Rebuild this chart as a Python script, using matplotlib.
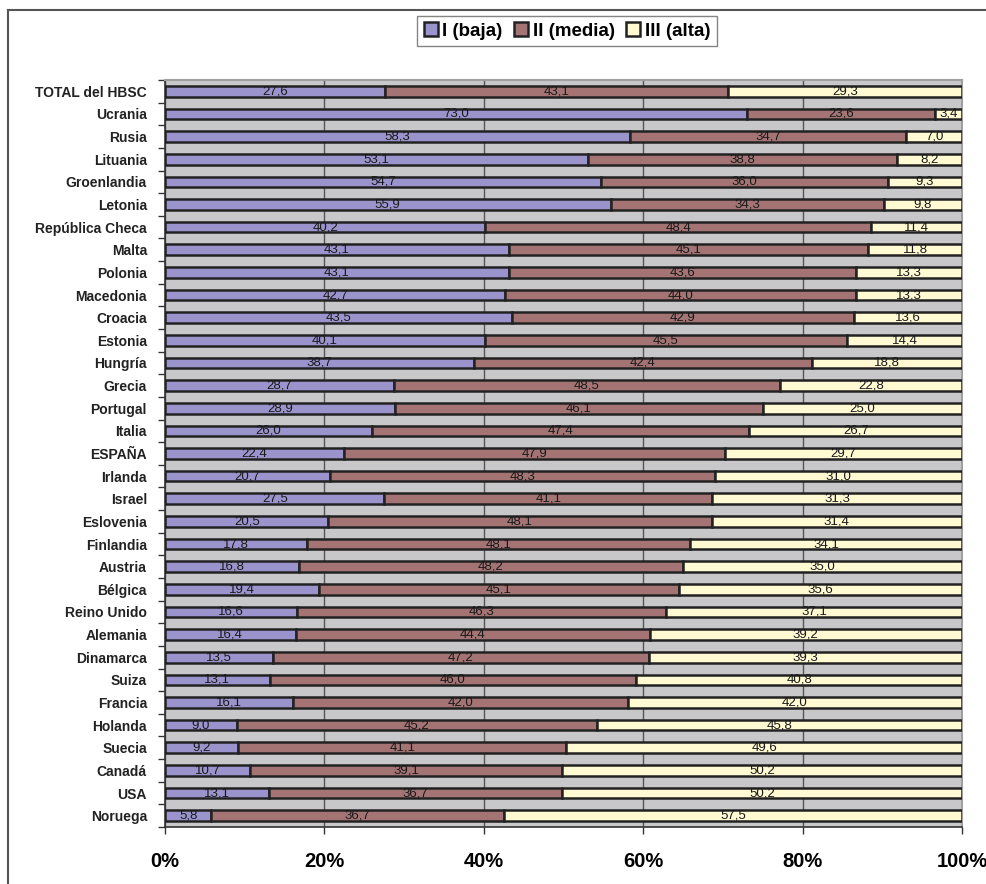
import numpy as np
import matplotlib
matplotlib.use("Agg")
import matplotlib.pyplot as plt
from matplotlib.lines import Line2D
from matplotlib.patches import Patch

plt.rcParams['font.family'] = ['Liberation Sans', 'DejaVu Sans']

# Distribución por nivel (% de escolares), de arriba abajo
paises = ["TOTAL del HBSC", "Ucrania", "Rusia", "Lituania", "Groenlandia", "Letonia",
          "República Checa", "Malta", "Polonia", "Macedonia", "Croacia", "Estonia",
          "Hungría", "Grecia", "Portugal", "Italia", "ESPAÑA", "Irlanda", "Israel",
          "Eslovenia", "Finlandia", "Austria", "Bélgica", "Reino Unido", "Alemania",
          "Dinamarca", "Suiza", "Francia", "Holanda", "Suecia", "Canadá", "USA", "Noruega"]
baja = [27.6, 73.0, 58.3, 53.1, 54.7, 55.9, 40.2, 43.1, 43.1, 42.7, 43.5, 40.1, 38.7,
        28.7, 28.9, 26.0, 22.4, 20.7, 27.5, 20.5, 17.8, 16.8, 19.4, 16.6, 16.4, 13.5,
        13.1, 16.1, 9.0, 9.2, 10.7, 13.1, 5.8]
media = [43.1, 23.6, 34.7, 38.8, 36.0, 34.3, 48.4, 45.1, 43.6, 44.0, 42.9, 45.5, 42.4,
         48.5, 46.1, 47.4, 47.9, 48.3, 41.1, 48.1, 48.1, 48.2, 45.1, 46.3, 44.4, 47.2,
         46.0, 42.0, 45.2, 41.1, 39.1, 36.7, 36.7]
alta = [29.3, 3.4, 7.0, 8.2, 9.3, 9.8, 11.4, 11.8, 13.3, 13.3, 13.6, 14.4, 18.8, 22.8,
        25.0, 26.7, 29.7, 31.0, 31.3, 31.4, 34.1, 35.0, 35.6, 37.1, 39.2, 39.3, 40.8,
        42.0, 45.8, 49.6, 50.2, 50.2, 57.5]
series = ["I (baja)", "II (media)", "III (alta)"]
colores = ["#9b94cc", "#a47474", "#fffad2"]

datos = np.array([baja, media, alta], dtype=float)
pct = datos / datos.sum(axis=0) * 100  # barras al 100 %

fig = plt.figure(figsize=(9.87, 8.84), dpi=100)
ax = fig.add_axes([165 / 987, 1 - 827 / 884, (962 - 165) / 987, (827 - 80) / 884])
ax.set_facecolor("#c8c8ca")

y = np.arange(len(paises))
izq = np.zeros(len(paises))
for k in range(3):
    ax.barh(y, pct[k], left=izq, height=0.47, color=colores[k],
            edgecolor="#222222", linewidth=1.8, label=series[k], zorder=3)
    for i in range(len(paises)):
        txt = f"{datos[k, i]:.1f}".replace(".", ",")
        ax.text(izq[i] + pct[k, i] / 2, y[i], txt, ha="center", va="center",
                fontsize=9.5, color="#1a1a1a", zorder=4)
    izq += pct[k]

ax.set_xlim(0, 100)
ax.set_ylim(len(paises) - 0.5, -0.5)
ax.set_xticks([0, 20, 40, 60, 80, 100])
ax.set_xticklabels(["0%", "20%", "40%", "60%", "80%", "100%"],
                   fontsize=14.5, fontweight="bold")
ax.tick_params(axis="x", direction="out", length=5, width=1, color="#333333", pad=13)
ax.xaxis.grid(True, color="#555555", linewidth=1, zorder=0)

ax.set_yticks(y)
ax.set_yticklabels(paises, fontsize=10, fontweight="bold", color="#222222")
ax.set_yticks(np.arange(len(paises) + 1) - 0.5, minor=True)
ax.tick_params(axis="y", which="major", length=0, pad=13)
ax.tick_params(axis="y", which="minor", direction="out", length=5, width=1, color="#333333")

for lado in ["left", "bottom"]:
    ax.spines[lado].set_color("#333333")
    ax.spines[lado].set_linewidth(1.2)
for lado in ["top", "right"]:
    ax.spines[lado].set_color("#a0a0a0")
    ax.spines[lado].set_linewidth(1.5)

# leyenda superior
manijas = [Patch(facecolor=c, edgecolor="#222222", linewidth=1.8) for c in colores]
leg = fig.legend(manijas, series, loc="center", bbox_to_anchor=(567 / 987, 1 - 31 / 884),
                 ncol=3, frameon=True, fancybox=False, edgecolor="#666666",
                 prop={"weight": "bold", "size": 13.5}, handlelength=0.75, handleheight=0.75,
                 handletextpad=0.25, columnspacing=0.6, borderpad=0.35)
leg.get_frame().set_linewidth(1.0)

# marco exterior
fig.add_artist(Line2D([8 / 987, 8 / 987], [0, 1 - 10 / 884], color="#555555", linewidth=1.5))
fig.add_artist(Line2D([8 / 987, 1], [1 - 10 / 884, 1 - 10 / 884], color="#555555", linewidth=1.5))

fig.savefig("out.png", dpi=100)
